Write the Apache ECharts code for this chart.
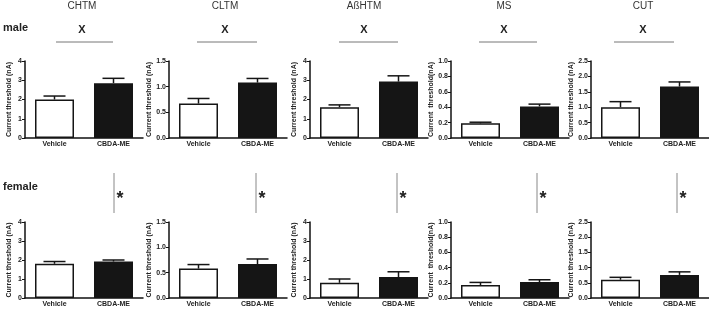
<!DOCTYPE html>
<html lang="en">
<head>
    <meta charset="UTF-8">
    <title>Current threshold</title>
    <script src="https://cdn.jsdelivr.net/npm/echarts@6/dist/echarts.min.js"></script>
    <style>
        html, body { margin: 0; padding: 0; background: #fff; }
        #container { width: 709px; height: 309px; }
    </style>
</head>
<body>
<div id="container"></div>

<script type="text/javascript">
    // data
    var panels = ['CHTM', 'CLTM', 'AßHTM', 'MS', 'CUT'];
    var categories = ['Vehicle', 'CBDA-ME'];
    var maleMean = [[2.0, 2.85], [0.67, 1.08], [1.6, 2.93], [0.19, 0.41], [1.0, 1.67]];
    var maleSem = [[0.18, 0.25], [0.1, 0.08], [0.12, 0.3], [0.015, 0.03], [0.18, 0.15]];
    var femaleMean = [[1.8, 1.92], [0.58, 0.67], [0.8, 1.1], [0.17, 0.21], [0.6, 0.76]];
    var femaleSem = [[0.12, 0.08], [0.08, 0.1], [0.2, 0.28], [0.035, 0.03], [0.08, 0.1]];
    var yMax = [4, 1.5, 4, 1.0, 2.5];
    var yStep = [1, 0.5, 1, 0.2, 0.5];
    var yNames = ['Current threshold (nA)', 'Current threshold (nA)', 'Current threshold (nA)',
        'Current  threshold(nA)', 'Current threshold (nA)'];

    var dom = document.getElementById('container');
    var myChart = echarts.init(dom, null, { renderer: 'canvas' });

    var gridLeft = [25, 169, 310, 451, 591];
    var rows = [
        { top: 61, height: 77, mean: maleMean, sem: maleSem },
        { top: 222, height: 76, mean: femaleMean, sem: femaleSem }
    ];

    var grid = [], xAxis = [], yAxis = [], series = [];

    rows.forEach(function (row, r) {
        panels.forEach(function (p, i) {
            var k = grid.length;
            grid.push({ left: gridLeft[i], top: row.top, width: 118, height: row.height });
            xAxis.push({
                type: 'category', gridIndex: k, data: categories,
                axisLine: { lineStyle: { color: '#111', width: 1.5 } },
                axisTick: { show: false },
                axisLabel: { fontSize: 7, fontWeight: 'bold', color: '#222', margin: 3, interval: 0,
                    fontFamily: 'Liberation Sans' }
            });
            yAxis.push({
                type: 'value', gridIndex: k, min: 0, max: yMax[i], interval: yStep[i],
                name: yNames[i], nameLocation: 'middle', nameGap: 12,
                nameTextStyle: { fontSize: 7, fontWeight: 'bold', color: '#222', fontFamily: 'Liberation Sans' },
                axisLine: { show: true, lineStyle: { color: '#111', width: 1.5 } },
                axisTick: { show: true, length: 3, lineStyle: { color: '#111' } },
                splitLine: { show: false },
                axisLabel: {
                    fontSize: 7, fontWeight: 'bold', color: '#222', margin: 3, fontFamily: 'Liberation Sans',
                    formatter: function (v) { return yStep[i] < 1 ? v.toFixed(1) : String(v); }
                }
            });
            var means = row.mean[i], sems = row.sem[i];
            series.push({
                type: 'bar', xAxisIndex: k, yAxisIndex: k, barWidth: 39, silent: true,
                data: means.map(function (v, j) {
                    return {
                        value: v,
                        itemStyle: {
                            color: j === 0 ? '#fff' : '#151515',
                            borderColor: '#151515', borderWidth: 1.5
                        }
                    };
                })
            });
            series.push({
                type: 'custom', xAxisIndex: k, yAxisIndex: k, silent: true, z: 1,
                data: means.map(function (v, j) { return [j, v, v + sems[j]]; }),
                renderItem: function (params, api) {
                    var base = api.coord([api.value(0), api.value(1)]);
                    var top = api.coord([api.value(0), api.value(2)]);
                    var style = { stroke: '#151515', lineWidth: 1.5 };
                    return {
                        type: 'group',
                        children: [
                            { type: 'line', shape: { x1: base[0], y1: base[1], x2: top[0], y2: top[1] }, style: style },
                            { type: 'line', shape: { x1: top[0] - 11, y1: top[1], x2: top[0] + 11, y2: top[1] }, style: style }
                        ]
                    };
                }
            });
        });
    });

    // titles and significance annotations
    var graphic = [];
    var titleX = [82, 225, 364, 504, 643];
    var maleLine = [[56, 113], [197, 257], [339, 398], [479, 537], [614, 674]];
    var femaleLineX = [114, 256, 397, 537, 677];
    panels.forEach(function (p, i) {
        graphic.push({ type: 'text', x: titleX[i], y: 6, style: { text: p, fontSize: 10, fill: '#333',
            fontFamily: 'Liberation Sans', align: 'center', verticalAlign: 'middle' } });
        graphic.push({ type: 'text', x: titleX[i], y: 30, style: { text: 'X', fontSize: 11, fontWeight: 'bold', fill: '#222',
            fontFamily: 'Liberation Sans', align: 'center', verticalAlign: 'middle' } });
        graphic.push({ type: 'line', shape: { x1: maleLine[i][0], y1: 42, x2: maleLine[i][1], y2: 42 },
            style: { stroke: '#777', lineWidth: 1 } });
        graphic.push({ type: 'line', shape: { x1: femaleLineX[i], y1: 173, x2: femaleLineX[i], y2: 213 },
            style: { stroke: '#888', lineWidth: 1 } });
        graphic.push({ type: 'text', x: femaleLineX[i] + 6, y: 199, style: { text: '*', fontSize: 18, fontWeight: 'bold', fill: '#222',
            fontFamily: 'Liberation Sans', align: 'center', verticalAlign: 'middle' } });
    });
    graphic.push({ type: 'text', x: 3, y: 28, style: { text: 'male', fontSize: 11, fontWeight: 'bold', fill: '#222',
        fontFamily: 'Liberation Sans', verticalAlign: 'middle' } });
    graphic.push({ type: 'text', x: 3, y: 187, style: { text: 'female', fontSize: 11, fontWeight: 'bold', fill: '#222',
        fontFamily: 'Liberation Sans', verticalAlign: 'middle' } });

    var option = {
        animation: false,
        grid: grid,
        xAxis: xAxis,
        yAxis: yAxis,
        series: series,
        graphic: graphic
    };

    if (option && typeof option === 'object') {
        myChart.setOption(option);
    }
    window.addEventListener('resize', myChart.resize);
</script>
</body>
</html>
